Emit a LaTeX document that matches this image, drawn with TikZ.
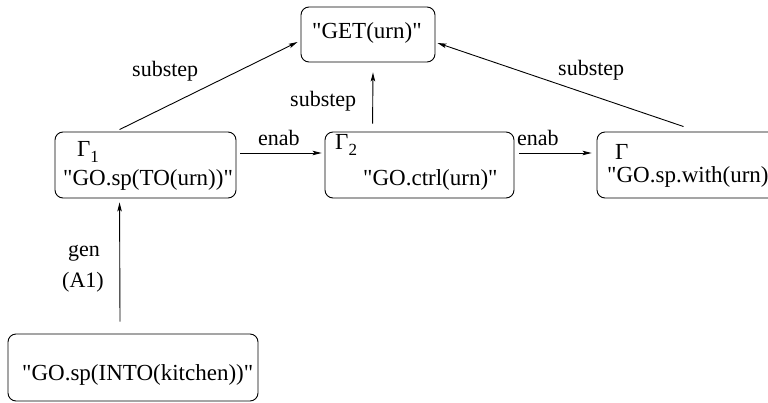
\documentclass[tikz,border=0pt]{standalone}
\usepackage{fontspec}
\setmainfont{Liberation Serif}[Ligatures=TeXOff]
\usetikzlibrary{arrows.meta}
\tikzset{
  box/.style={draw, rounded corners=8pt, line width=0.9pt, inner sep=0pt},
  txt/.style={anchor=base west, inner sep=0pt, font=\fontsize{23}{27}\selectfont},
  lbl/.style={anchor=base west, inner sep=0pt, font=\fontsize{22}{26}\selectfont},
  arr/.style={line width=0.9pt, -{Stealth[length=9pt,width=4.5pt,inset=2pt]}}
}
\newcommand{\gsub}[1]{Γ\raisebox{-0.3em}{\fontsize{17}{17}\selectfont #1}}
\begin{document}
\begin{tikzpicture}[x=1pt,y=-1pt]
\useasboundingbox (0,0) rectangle (768,402);
% boxes
\node[box, minimum width=134pt, minimum height=55pt] (get) at (368,34.5) {};
\node[box, minimum width=181pt, minimum height=66pt] (g1) at (145.5,165) {};
\node[box, minimum width=189pt, minimum height=66pt] (g2) at (419.5,165) {};
\node[box, minimum width=200pt, minimum height=66pt] (g) at (697,165) {};
\node[box, minimum width=250pt, minimum height=67pt] (b) at (133,367.5) {};
% texts
\node[txt] (tget) at (312,38) {"GET(urn)"};
\node[txt] (tg1a) at (77,156) {\gsub{1}};
\node[txt] (tg1b) at (63,185) {"GO.sp(TO(urn))"};
\node[txt] (tg2a) at (335,149) {\gsub{2}};
\node[txt] (tg2b) at (363,185) {"GO.ctrl(urn)"};
\node[txt] (tga) at (615,159) {Γ};
\node[txt] (tgb) at (607,182) {"GO.sp.with(urn)"};
\node[txt] (tb) at (22,380) {"GO.sp(INTO(kitchen))"};
% labels
\node[lbl] (l1) at (132,76) {substep};
\node[lbl] (l2) at (290,106) {substep};
\node[lbl] (l3) at (558,75) {substep};
\node[lbl] (l4) at (258,145) {enab};
\node[lbl] (l5) at (517,145) {enab};
\node[lbl] (l6) at (68,256) {gen};
\node[lbl] (l7) at (62,287) {(A1)};
% arrows
\draw[arr] ([xshift=65pt,yshift=2pt]g1.north west) -- ([xshift=-3pt,yshift=-7.5pt]get.west);
\draw[arr] ([xshift=48pt,yshift=8pt]g2.north west) -- ([xshift=5pt,yshift=-10pt]get.south);
\draw[arr] ([xshift=87pt,yshift=5pt]g.north west) -- ([xshift=2pt,yshift=-8.5pt]get.east);
\draw[arr] ([xshift=4pt,yshift=12pt]g1.east) -- ([xshift=-3pt,yshift=12pt]g2.west);
\draw[arr] ([xshift=5pt,yshift=12pt]g2.east) -- ([xshift=-5pt,yshift=12pt]g.west);
\draw[arr] ([xshift=-13pt,yshift=12pt]b.north) -- ([xshift=65pt,yshift=-4pt]g1.south west);
\end{tikzpicture}
\end{document}
